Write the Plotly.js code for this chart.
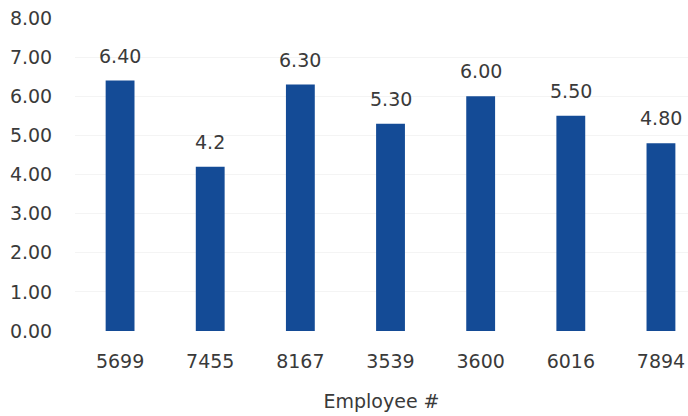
<!DOCTYPE html>
<html>
<head>
<meta charset="utf-8">
<script src="https://cdn.plot.ly/plotly-3.0.1.min.js"></script>
<style>html,body{margin:0;padding:0;background:#fff;}#chart{width:688px;height:416px;}</style>
</head>
<body>
<div id="chart"></div>
<script>
const employees = ["5699", "7455", "8167", "3539", "3600", "6016", "7894"];
const scores = [6.40, 4.2, 6.30, 5.30, 6.00, 5.50, 4.80];
const scoreLabels = ["6.40", "4.2", "6.30", "5.30", "6.00", "5.50", "4.80"];
const yTicks = [0, 1, 2, 3, 4, 5, 6, 7, 8];
const yTickLabels = ["0.00", "1.00", "2.00", "3.00", "4.00", "5.00", "6.00", "7.00", "8.00"];

const textColor = "#3a3a3a";
const font = {family: "DejaVu Sans", size: 19, color: textColor};

const trace = {
  type: "bar",
  x: employees,
  y: scores,
  marker: {color: "#144b96"},
  width: 0.32,
  hoverinfo: "none"
};

const annotations = employees.map((e, i) => ({
  x: i, y: scores[i], xref: "x", yref: "y",
  text: scoreLabels[i], showarrow: false,
  yanchor: "bottom", yshift: 12,
  font: font
}));

const layout = {
  width: 688, height: 416,
  margin: {l: 75, r: 0, t: 18, b: 85},
  paper_bgcolor: "#fff", plot_bgcolor: "#fff",
  font: font,
  showlegend: false,
  xaxis: {
    type: "category",
    range: [-0.5, 6.3],
    showgrid: false, zeroline: false, showline: false,
    ticks: "outside", ticklen: 13, tickcolor: "rgba(0,0,0,0)",
    tickfont: font,
    title: {text: "Employee #", font: font, standoff: 23}
  },
  yaxis: {
    range: [0, 8],
    tickvals: yTicks, ticktext: yTickLabels,
    showgrid: true, gridcolor: "#f4f4f4", gridwidth: 1,
    zeroline: false, showline: false,
    ticks: "outside", ticklen: 18, tickcolor: "rgba(0,0,0,0)",
    tickfont: font
  },
  annotations: annotations
};

Plotly.newPlot("chart", [trace], layout, {displayModeBar: false, staticPlot: true});
</script>
</body>
</html>
